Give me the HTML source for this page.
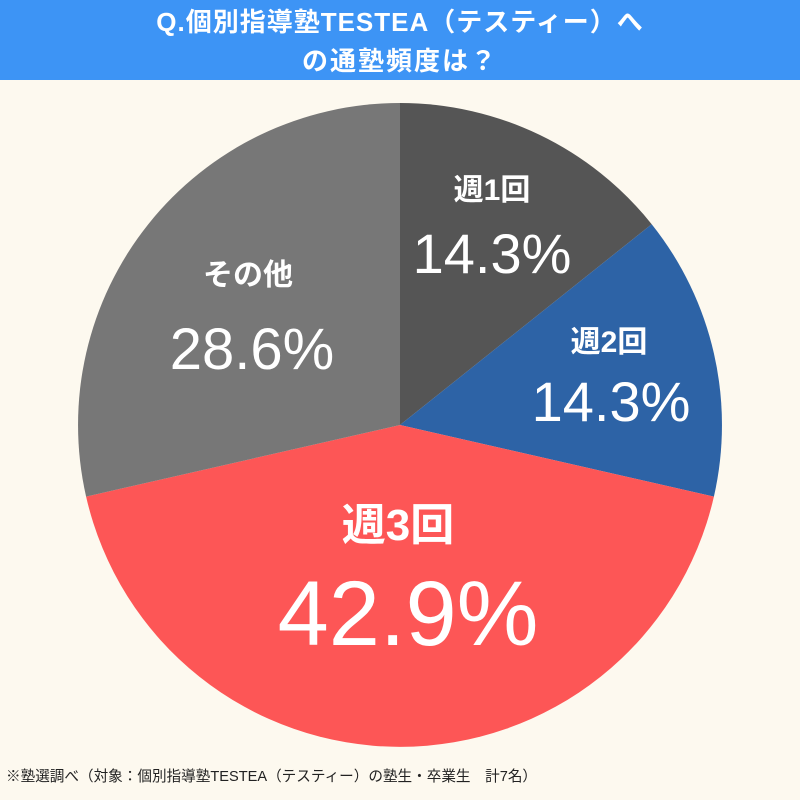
<!DOCTYPE html>
<html><head><meta charset="utf-8"><style>
html,body{margin:0;padding:0;width:800px;height:800px;background:#fdf9ef;overflow:hidden;font-family:"Liberation Sans","Noto Sans CJK JP",sans-serif;}
</style></head><body>
<svg width="800" height="800" xmlns="http://www.w3.org/2000/svg" style="display:block">
<rect width="800" height="800" fill="#fdf9ef"/>
<rect width="800" height="80" fill="#3d94f5"/>
<g font-family="Liberation Sans, Noto Sans CJK JP, sans-serif" fill="#fff" font-weight="bold" text-anchor="middle">
<text x="400" y="31" font-size="26" letter-spacing="1">Q.個別指導塾TESTEA（テスティー）へ</text>
<text x="400" y="70" font-size="26" letter-spacing="2">の通塾頻度は？</text>
</g>
<g>
<path d="M400,425 L400,103 A322,322 0 0,1 651.7,224.2 Z" fill="#555555"/>
<path d="M400,425 L651.7,224.2 A322,322 0 0,1 713.9,496.6 Z" fill="#2d63a6"/>
<path d="M400,425 L713.9,496.6 A322,322 0 0,1 86.1,496.6 Z" fill="#fd5656"/>
<path d="M400,425 L86.1,496.6 A322,322 0 0,1 400,103 Z" fill="#777777"/>
</g>
<g font-family="Liberation Sans, Noto Sans CJK JP, sans-serif" fill="#fff" text-anchor="middle">
<text x="492" y="200" font-size="30" font-weight="bold">週1回</text>
<text x="492" y="273" font-size="56">14.3%</text>
<text x="609" y="352" font-size="30" font-weight="bold">週2回</text>
<text x="611" y="421" font-size="56">14.3%</text>
<text x="248" y="285" font-size="30" font-weight="bold">その他</text>
<text x="252" y="369" font-size="58">28.6%</text>
<text x="398" y="540" font-size="44" font-weight="bold">週3回</text>
<text x="408" y="645" font-size="92">42.9%</text>
</g>
<text x="6" y="781" font-size="14.6" fill="#222" font-family="Liberation Sans, Noto Sans CJK JP, sans-serif">※塾選調べ（対象：個別指導塾TESTEA（テスティー）の塾生・卒業生　計7名）</text>
</svg>
</body></html>
